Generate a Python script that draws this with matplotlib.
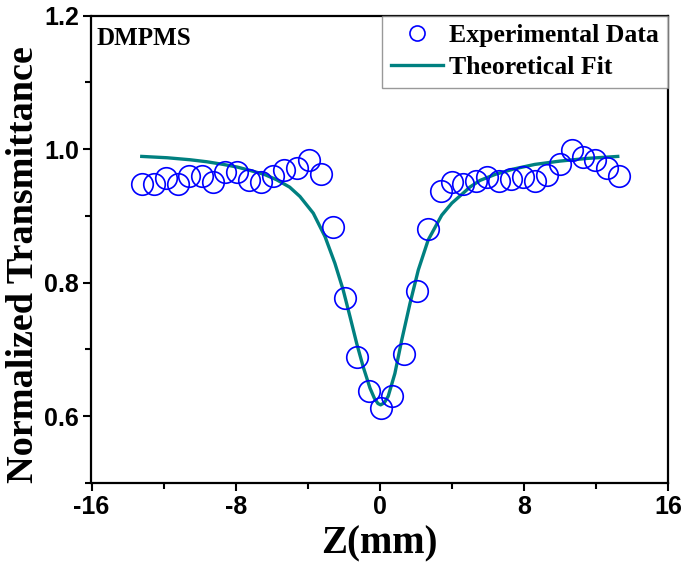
import matplotlib
matplotlib.use("Agg")
import matplotlib.pyplot as plt
from matplotlib.ticker import MultipleLocator

z_exp = [-13.21, -12.53, -11.86, -11.18, -10.57, -9.88, -9.24, -8.59, -7.94, -7.24,
         -6.59, -5.94, -5.30, -4.61, -3.91, -3.28,
         -2.58, -1.93, -1.25, -0.60, 0.05, 0.69, 1.36, 2.05, 2.69,
         3.38, 3.99, 4.63, 5.34, 5.97, 6.63, 7.28, 7.96, 8.61, 9.30,
         10.00, 10.65, 11.29, 11.94, 12.59, 13.29]
t_exp = [0.947, 0.947, 0.957, 0.947, 0.959, 0.960, 0.950, 0.965, 0.965, 0.953,
         0.950, 0.959, 0.968, 0.972, 0.984, 0.962,
         0.884, 0.777, 0.689, 0.638, 0.612, 0.631, 0.693, 0.788, 0.881,
         0.937, 0.950, 0.947, 0.952, 0.958, 0.952, 0.955, 0.958, 0.952, 0.961,
         0.978, 0.999, 0.988, 0.983, 0.972, 0.960]

# Theoretical fit curve
z_fit = [-13.21, -11.8, -10.53, -9.6, -8.68, -7.9, -7.20, -6.4, -5.72, -5.0, -4.43, -3.69,
         -3.04, -2.49, -2.03, -1.65, -1.28, -0.92, -0.54, -0.30, -0.10, 0.05, 0.25,
         0.47, 0.84, 1.22, 1.68, 2.14, 2.69, 3.44, 4.0, 4.63, 5.0, 5.56, 6.4, 7.41,
         8.6, 10.00, 11.5, 13.21]
t_fit = [0.989, 0.987, 0.984, 0.981, 0.977, 0.973, 0.968, 0.962, 0.954, 0.943, 0.929, 0.904,
         0.869, 0.829, 0.789, 0.749, 0.709, 0.674, 0.642, 0.627, 0.619, 0.617, 0.620,
         0.630, 0.664, 0.714, 0.769, 0.819, 0.864, 0.901, 0.919, 0.934, 0.943, 0.953, 0.962, 0.970,
         0.977, 0.982, 0.986, 0.989]

x_ticks = [-16, -8, 0, 8, 16]
y_ticks = [0.6, 0.8, 1.0, 1.2]

fig = plt.figure(figsize=(6.85, 5.63), dpi=100)
ax = fig.add_axes([91.5 / 685, 1 - 483 / 563, (668 - 91.5) / 685, (483 - 15.5) / 563])

ax.plot(z_exp, t_exp, linestyle='none', marker='o', markersize=15.5,
        markerfacecolor='none', markeredgecolor='#0000ff', markeredgewidth=1.2,
        label='Experimental Data', zorder=3)
ax.plot(z_fit, t_fit, color='#008080', linewidth=2.4, label='Theoretical Fit', zorder=2)

ax.set_xlim(-16, 16)
ax.set_ylim(0.5, 1.2)
ax.set_xticks(x_ticks)
ax.set_yticks(y_ticks)
ax.set_xticklabels([str(v) for v in x_ticks])
ax.set_yticklabels([f"{v:.1f}" for v in y_ticks])
ax.xaxis.set_minor_locator(MultipleLocator(4))
ax.yaxis.set_minor_locator(MultipleLocator(0.1))

for lab in ax.get_xticklabels() + ax.get_yticklabels():
    lab.set_fontfamily('Liberation Sans')
    lab.set_fontweight('bold')
    lab.set_fontsize(18)

ax.tick_params(which='major', direction='out', length=6, width=1.5, top=False, right=False, pad=3)
ax.tick_params(which='minor', direction='out', length=4, width=1.5, top=False, right=False)
for s in ax.spines.values():
    s.set_linewidth(1.6)

ax.set_xlabel('Z(mm)', fontfamily='Liberation Serif', fontweight='bold', fontsize=28, labelpad=4)
ax.set_ylabel('Normalized Transmittance', fontfamily='Liberation Serif', fontweight='bold',
              fontsize=27.5)
ax.yaxis.set_label_coords(-0.088, 0.468)

ax.text(0.008, 0.975, 'DMPMS', transform=ax.transAxes, ha='left', va='top',
        fontfamily='Liberation Serif', fontweight='bold', fontsize=18)

leg = ax.legend(loc='upper right', bbox_to_anchor=(1.0, 1.0), borderaxespad=0.0,
                prop=dict(family='Liberation Serif', weight='bold', size=18.5),
                frameon=True, fancybox=False, markerscale=0.7, handlelength=2.0,
                handletextpad=0.25, labelspacing=0.32, borderpad=0.35)
leg.get_frame().set_edgecolor('#808080')
leg.get_frame().set_linewidth(1.0)

fig.savefig('out.png', dpi=100)
